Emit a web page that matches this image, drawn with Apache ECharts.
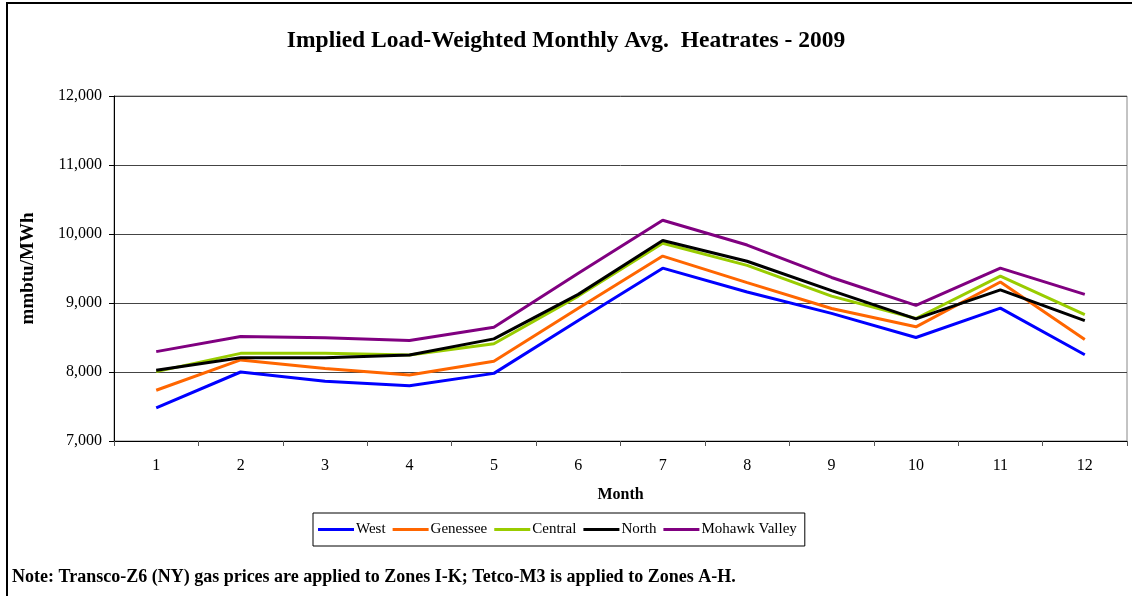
<!DOCTYPE html>
<html>
<head>
<meta charset="utf-8">
<script src="https://cdn.jsdelivr.net/npm/echarts@6/dist/echarts.min.js"></script>
<style>
  html, body { margin: 0; padding: 0; background: #fff; }
  #chart { width: 1132px; height: 596px; }
</style>
</head>
<body>
<div id="chart"></div>
<script>
// months 1..12
const months = ["1", "2", "3", "4", "5", "6", "7", "8", "9", "10", "11", "12"];
const west = [7480, 8000, 7865, 7800, 7980, 8745, 9505, 9160, 8850, 8500, 8925, 8250];
const genessee = [7735, 8175, 8050, 7955, 8155, 8925, 9680, 9295, 8920, 8655, 9305, 8470];
const central = [8005, 8270, 8270, 8245, 8410, 9100, 9865, 9545, 9100, 8775, 9390, 8830];
const north = [8025, 8205, 8205, 8245, 8480, 9125, 9905, 9605, 9180, 8770, 9190, 8745];
const mohawk = [8295, 8515, 8495, 8455, 8650, 9430, 10200, 9840, 9370, 8965, 9505, 9125];
const yTicks = [7000, 12000, 1000]; // min, max, step

const serif = "'Liberation Serif', 'DejaVu Serif', serif";
const chart = echarts.init(document.getElementById("chart"));

const mkLine = (name, data, color) => ({
  name: name,
  type: "line",
  data: data,
  symbol: "none",
  lineStyle: { color: color, width: 3 },
  itemStyle: { color: color },
  animation: false,
});

const option = {
  animation: false,
  title: {
    text: "Implied Load-Weighted Monthly Avg.  Heatrates - 2009",
    left: "center",
    top: 24,
    textStyle: { fontFamily: serif, fontSize: 23.5, fontWeight: "bold", color: "#000" },
  },
  graphic: [
    {
      type: "rect",
      shape: { x: 7, y: 3, width: 1140, height: 610 },
      style: { fill: "none", stroke: "#000", lineWidth: 2 },
      silent: true,
    },
    {
      type: "text",
      left: 12,
      top: 568,
      style: {
        text: "Note: Transco-Z6 (NY) gas prices are applied to Zones I-K; Tetco-M3 is applied to Zones A-H.",
        font: "bold 18px " + serif,
        fill: "#000",
      },
    },
  ],
  legend: {
    data: ["West", "Genessee", "Central", "North", "Mohawk Valley"],
    left: 313,
    top: 513,
    width: 594,
    height: 34,
    padding: [9, 8, 9, 5],
    itemGap: 7,
    icon: "rect",
    itemWidth: 36,
    itemHeight: 3,
    borderColor: "#000",
    borderWidth: 1,
    textStyle: { fontFamily: serif, fontSize: 15, color: "#000", padding: [0, 0, 0, -3] },
  },
  grid: {
    left: 114,
    right: 5,
    top: 96,
    bottom: 155,
    show: true,
    borderColor: "#888",
    borderWidth: 1,
  },
  xAxis: {
    type: "category",
    data: months,
    boundaryGap: true,
    name: "Month",
    nameLocation: "middle",
    nameGap: 46,
    nameTextStyle: { fontFamily: serif, fontSize: 16, fontWeight: "bold", color: "#000" },
    axisLine: { lineStyle: { color: "#000", width: 1 } },
    axisTick: { show: true, length: 5, lineStyle: { color: "#555" } },
    axisLabel: { fontFamily: serif, fontSize: 16, color: "#000", margin: 17 },
  },
  yAxis: {
    type: "value",
    min: yTicks[0],
    max: yTicks[1],
    interval: yTicks[2],
    name: "mmbtu/MWh",
    nameLocation: "middle",
    nameGap: 76,
    nameTextStyle: { fontFamily: serif, fontSize: 19, fontWeight: "bold", color: "#000" },
    axisLine: { show: true, lineStyle: { color: "#000", width: 1 } },
    axisTick: { show: true, length: 5, lineStyle: { color: "#000" } },
    axisLabel: {
      fontFamily: serif,
      fontSize: 16,
      color: "#000",
      margin: 12,
      formatter: (v) => v.toLocaleString("en-US"),
    },
    splitLine: { show: true, lineStyle: { color: "#444", width: 1 } },
  },
  series: [
    mkLine("West", west, "#0000FF"),
    mkLine("Genessee", genessee, "#FF6600"),
    mkLine("Central", central, "#99CC00"),
    mkLine("North", north, "#000000"),
    mkLine("Mohawk Valley", mohawk, "#800080"),
  ],
};

chart.setOption(option);
</script>
</body>
</html>
